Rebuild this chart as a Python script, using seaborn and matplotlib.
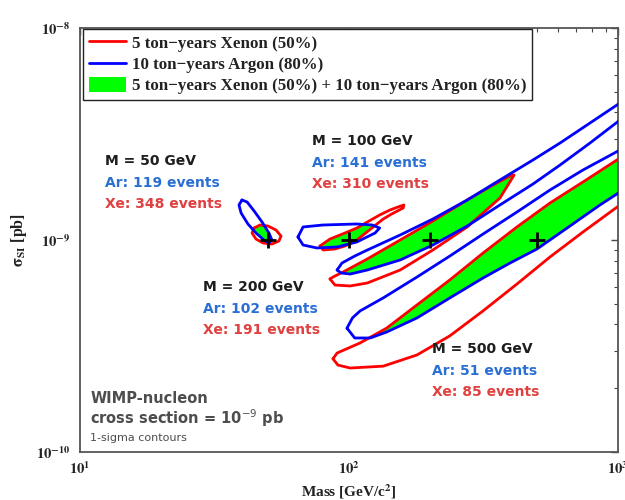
import numpy as np
import seaborn as sns
import matplotlib
matplotlib.use("Agg")
import matplotlib.pyplot as plt
from matplotlib.lines import Line2D
from matplotlib.patches import Patch, Polygon
from matplotlib.ticker import FixedLocator, LogLocator, FuncFormatter, NullFormatter

sns.set_theme(style="white")
plt.rcParams["font.family"] = ["DejaVu Sans"]
plt.rcParams["mathtext.fontset"] = "stix"

# ---------------- data ----------------
SIGMA_UNIT = 1e-9  # cross sections below are in units of 1e-9 pb

true_mass = [50, 100, 200, 500]          # GeV
true_sigma = [1.0, 1.0, 1.0, 1.0]        # x 1e-9 pb

# M = 50 GeV
xe50_mass = [44.4, 46.7, 50.0, 53.5, 55.9, 54.9, 51.7, 47.9, 45.1, 43.6]
xe50_sigma = [1.139, 1.177, 1.164, 1.115, 1.044, 0.989, 0.957, 0.968, 1.011, 1.079]
ar50_mass = [40.0, 41.8, 44.4, 47.5, 50.4, 51.7, 50.4, 48.3, 45.1, 42.1, 39.7, 39.0]
ar50_sigma = [1.544, 1.511, 1.370, 1.216, 1.079, 1.0, 0.968, 1.0, 1.079, 1.190, 1.341, 1.463]

# M = 100 GeV
xe100_mass = [78.0, 85.0, 96.6, 107, 117, 130, 142, 152, 160,
              159, 144, 134, 123, 107, 96.6, 88.7, 80.1]
xe100_sigma = [0.937, 1.011, 1.079, 1.139, 1.216, 1.312, 1.385, 1.431, 1.463,
               1.416, 1.326, 1.256, 1.152, 1.0, 0.937, 0.907, 0.897]
ar100_mass = [64.6, 67.5, 80.1, 107, 122, 130, 125, 107, 90.3, 76.0, 67.5]
ar100_sigma = [1.033, 1.152, 1.177, 1.190, 1.177, 1.139, 1.079, 0.979, 0.927, 0.917, 0.947]

# M = 200 GeV
xe200_mass = [85.0, 88.7, 101, 117, 155, 205, 275, 364, 411,
              397, 343, 275, 205, 155, 117, 96.6, 87.2]
xe200_sigma = [0.655, 0.613, 0.607, 0.627, 0.722, 0.897, 1.152, 1.578, 2.026,
               2.004, 1.817, 1.544, 1.229, 1.0, 0.814, 0.714, 0.669]
ar200_mass = [90.3, 94.2, 105, 117, 155, 205, 275, 364, 483, 609, 787, 1017, 1207,
              1207, 1017, 787, 609, 483, 364, 275, 205, 155, 117, 101, 93.4]
ar200_sigma = [0.722, 0.779, 0.840, 0.897, 1.056, 1.256, 1.544, 1.919, 2.385, 2.868, 3.564, 4.429, 5.100,
               4.195, 3.681, 2.868, 2.258, 1.837, 1.463, 1.164, 0.947, 0.805, 0.722, 0.691, 0.699]

# M = 500 GeV
xe500_mass = [87.2, 90.3, 110, 138, 179, 237, 315, 421, 559, 741, 1017, 1207,
              1207, 1017, 741, 559, 421, 315, 237, 179, 134, 101, 91.0]
xe500_sigma = [0.275, 0.293, 0.327, 0.384, 0.494, 0.648, 0.868, 1.152, 1.495, 1.878, 2.437, 2.746,
               1.685, 1.463, 1.091, 0.832, 0.620, 0.463, 0.353, 0.287, 0.254, 0.249, 0.257]
ar500_mass = [98.3, 103, 110, 134, 179, 237, 315, 421, 559, 741, 1017, 1207,
              1207, 1017, 857, 663, 500, 397, 315, 237, 179, 138, 120, 105]
ar500_sigma = [0.384, 0.429, 0.463, 0.533, 0.669, 0.840, 1.067, 1.355, 1.722, 2.139, 2.658, 2.995,
               1.919, 1.685, 1.463, 1.164, 0.907, 0.779, 0.662, 0.533, 0.429, 0.368, 0.345, 0.345]

labels_mass = ["M = 50 GeV", "M = 100 GeV", "M = 200 GeV", "M = 500 GeV"]
labels_ar = ["Ar: 119 events", "Ar: 141 events", "Ar: 102 events", "Ar: 51 events"]
labels_xe = ["Xe: 348 events", "Xe: 310 events", "Xe: 191 events", "Xe: 85 events"]
label_pos = [(0.047, 0.686), (0.431, 0.733), (0.229, 0.389), (0.654, 0.243)]

legend_labels = ["5 ton\u2212years Xenon (50%)",
                 "10 ton\u2212years Argon (80%)",
                 "5 ton\u2212years Xenon (50%) + 10 ton\u2212years Argon (80%)"]

# ---------------- figure ----------------
fig = plt.figure(figsize=(6.25, 5), dpi=100)
ax = fig.add_axes([0.128, 0.096, 0.8608, 0.848])
ax.set_xscale("log")
ax.set_yscale("log")

RED, BLUE, GREEN = "#ff0000", "#0000ff", "#00ff00"

pairs = [(xe50_mass, xe50_sigma, ar50_mass, ar50_sigma),
         (xe100_mass, xe100_sigma, ar100_mass, ar100_sigma),
         (xe200_mass, xe200_sigma, ar200_mass, ar200_sigma),
         (xe500_mass, xe500_sigma, ar500_mass, ar500_sigma)]

for xm, xs, am, asg in pairs:
    xe_xy = np.column_stack([xm, np.array(xs) * SIGMA_UNIT])
    ar_xy = np.column_stack([am, np.array(asg) * SIGMA_UNIT])
    clip = Polygon(ar_xy, closed=True, transform=ax.transData)
    green = Polygon(xe_xy, closed=True, facecolor=GREEN, edgecolor="none", zorder=1)
    ax.add_patch(green)
    green.set_clip_path(clip)

for xm, xs, am, asg in pairs:
    sns.lineplot(x=list(xm) + [xm[0]], y=[v * SIGMA_UNIT for v in list(xs) + [xs[0]]],
                 sort=False, estimator=None, color=RED, linewidth=2, ax=ax, zorder=2)
for xm, xs, am, asg in pairs:
    sns.lineplot(x=list(am) + [am[0]], y=[v * SIGMA_UNIT for v in list(asg) + [asg[0]]],
                 sort=False, estimator=None, color=BLUE, linewidth=2, ax=ax, zorder=3)

sns.scatterplot(x=true_mass, y=[v * SIGMA_UNIT for v in true_sigma], marker="+",
                s=130, linewidth=2, color="black", ax=ax, zorder=4)

ax.set_xlim(10, 1000)
ax.set_ylim(1e-10, 1e-8)

# ticks
def fmt(v, pos):
    e = int(round(np.log10(v)))
    return r"$\mathbf{10^{%d}}$" % e

ax.xaxis.set_major_locator(FixedLocator([10, 100, 1000]))
ax.yaxis.set_major_locator(FixedLocator([1e-10, 1e-9, 1e-8]))
ax.xaxis.set_major_formatter(FuncFormatter(fmt))
ax.yaxis.set_major_formatter(FuncFormatter(fmt))
ax.xaxis.set_minor_locator(LogLocator(base=10, subs=np.arange(2, 10)))
ax.yaxis.set_minor_locator(LogLocator(base=10, subs=np.arange(2, 10)))
ax.xaxis.set_minor_formatter(NullFormatter())
ax.yaxis.set_minor_formatter(NullFormatter())
ax.tick_params(which="both", direction="in", top=True, right=True,
               color="#444444", labelsize=10.5, labelcolor="#222222")
ax.tick_params(which="major", length=5, width=1)
ax.tick_params(which="minor", length=3, width=0.8)
ax.tick_params(axis="x", pad=6)
ax.tick_params(axis="y", pad=7)
for sp in ax.spines.values():
    sp.set_color("#555555")
    sp.set_linewidth(1.3)

ax.set_xlabel(r"Mass [GeV/c$^{\mathbf{2}}$]", fontfamily="Liberation Serif",
              fontweight="bold", fontsize=11, labelpad=4, color="#222222")
ax.set_ylabel(r"$\mathbf{\sigma_{SI}}$ [pb]", fontfamily="Liberation Serif",
              fontweight="bold", fontsize=11.5, labelpad=5, color="#222222")

# annotations
TXT_BLACK, TXT_BLUE, TXT_RED = "#1e1e1e", "#2a6fd4", "#e04040"
for (fx, fy), lm, la, lx in zip(label_pos, labels_mass, labels_ar, labels_xe):
    ax.text(fx, fy, lm, transform=ax.transAxes, fontsize=10, fontweight="bold",
            color=TXT_BLACK, va="center", ha="left")
    ax.text(fx, fy - 0.051, la, transform=ax.transAxes, fontsize=10, fontweight="bold",
            color=TXT_BLUE, va="center", ha="left")
    ax.text(fx, fy - 0.102, lx, transform=ax.transAxes, fontsize=10, fontweight="bold",
            color=TXT_RED, va="center", ha="left")

ax.text(0.019, 0.127, "WIMP-nucleon", transform=ax.transAxes, fontsize=10.5,
        fontweight="bold", color="#4d4d4d", va="center")
ax.text(0.019, 0.080, r"cross section = 10$^{-9}$ pb", transform=ax.transAxes,
        fontsize=10.5, fontweight="bold", color="#4d4d4d", va="center",
        math_fontfamily="dejavusans")
ax.text(0.019, 0.034, "1-sigma contours", transform=ax.transAxes, fontsize=8,
        color="#4d4d4d", va="center")

# legend
handles = [Line2D([], [], color=RED, lw=2),
           Line2D([], [], color=BLUE, lw=2),
           Patch(facecolor=GREEN, edgecolor="none")]
leg = ax.legend(handles, legend_labels, loc="upper left", bbox_to_anchor=(0.005, 0.998),
                borderaxespad=0, frameon=True, fancybox=False, framealpha=1,
                edgecolor="#222222", handlelength=2.2, handleheight=1.0,
                handletextpad=0.35, labelspacing=0.22, borderpad=0.35,
                prop={"family": "Liberation Serif", "weight": "bold", "size": 12.2})
leg.get_frame().set_linewidth(1.0)
for t in leg.get_texts():
    t.set_color("#222222")

fig.savefig("out.png", dpi=100)
